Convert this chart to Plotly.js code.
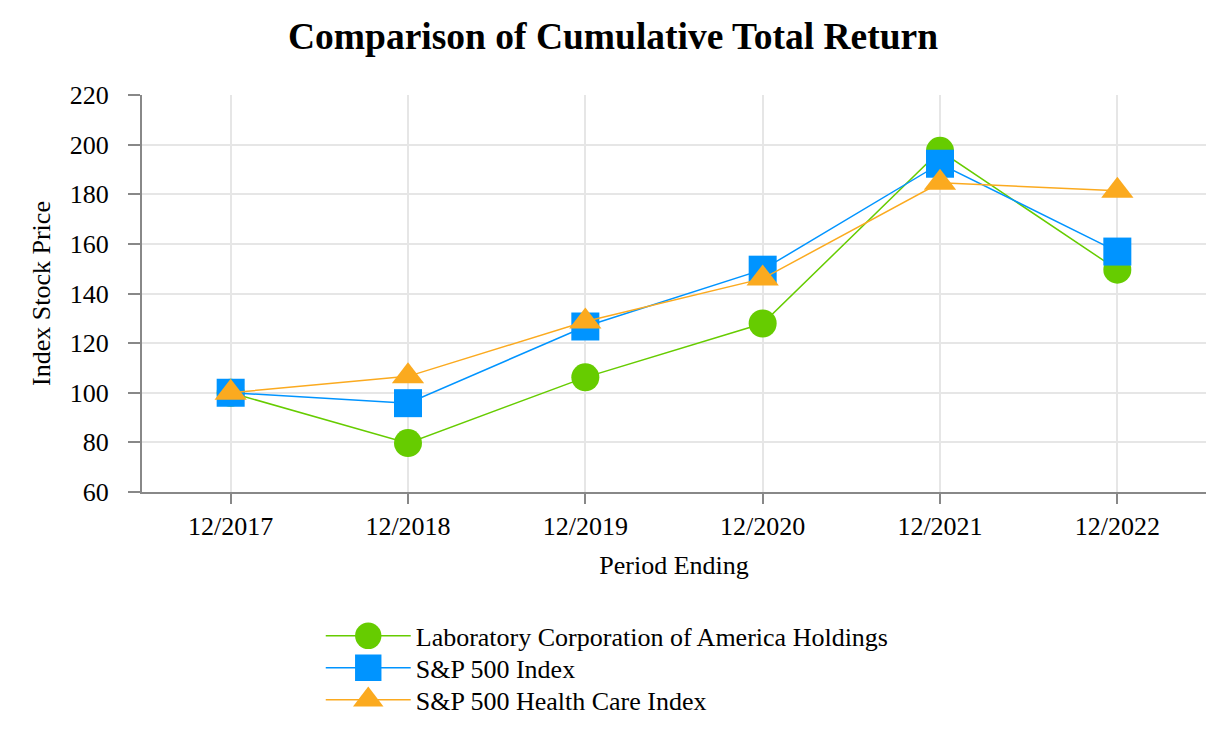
<!DOCTYPE html>
<html>
<head>
<meta charset="utf-8">
<script src="https://cdn.plot.ly/plotly-3.0.1.min.js"></script>
<style>html,body{margin:0;padding:0;background:#fff;}#chart{width:1226px;height:744px;}</style>
</head>
<body>
<div id="chart"></div>
<script>
const periods = ["12/2017", "12/2018", "12/2019", "12/2020", "12/2021", "12/2022"];
const labcorp = [100, 79.7, 106.2, 127.9, 197.5, 149.6];
const sp500 = [100, 95.8, 126.7, 149.6, 192.3, 156.9];
const spHealth = [100, 106.6, 128.7, 146.0, 184.6, 181.4];
const seriesNames = ["Laboratory Corporation of America Holdings", "S&P 500 Index", "S&P 500 Health Care Index"];

const font = "Liberation Serif, Times New Roman, serif";
const fs = 26;
const traces = [
  {x: periods, y: labcorp, name: seriesNames[0], mode: "lines+markers",
   line: {color: "#66cc00", width: 1.5}, marker: {symbol: "circle", size: 28, color: "#66cc00"}},
  {x: periods, y: sp500, name: seriesNames[1], mode: "lines+markers",
   line: {color: "#0094ff", width: 1.5}, marker: {symbol: "square", size: 28, color: "#0094ff"}},
  {x: periods, y: spHealth, name: seriesNames[2], mode: "lines+markers",
   line: {color: "#fbaa1f", width: 1.5}, marker: {symbol: "triangle-up", size: 28, color: "#fbaa1f"}}
];
const layout = {
  width: 1226, height: 744,
  margin: {l: 142, r: 20, t: 95, b: 251},
  paper_bgcolor: "#fff", plot_bgcolor: "#fff",
  font: {family: font, size: fs, color: "#000"},
  title: {text: "<b>Comparison of Cumulative Total Return</b>", x: 0.5, xanchor: "center", y: 0.952, yanchor: "middle",
          font: {family: font, size: 37.5, color: "#000"}},
  xaxis: {type: "category", range: [-0.5, 5.5], showgrid: true, gridcolor: "#e6e6e6", gridwidth: 2,
          showline: true, linecolor: "#888", linewidth: 2, ticks: "outside", ticklen: 10, tickcolor: "#888", tickwidth: 2,
          tickfont: {family: font, size: fs}, zeroline: false,
          title: {text: "Period Ending", font: {family: font, size: fs}, standoff: 16}},
  yaxis: {range: [60, 220], dtick: 20, showgrid: true, gridcolor: "#e6e6e6", gridwidth: 2,
          showline: true, linecolor: "#888", linewidth: 2, ticks: "outside", ticklen: 12, tickcolor: "#888", tickwidth: 2,
          ticklabelstandoff: 14,
          tickfont: {family: font, size: fs}, zeroline: false,
          title: {text: "Index Stock Price", font: {family: font, size: fs}, standoff: 12}},
  legend: {orientation: "v", x: 0.168, xanchor: "left", y: -0.3, yanchor: "top",
           font: {family: font, size: fs}, tracegroupgap: 0, itemwidth: 85},
  showlegend: true
};
Plotly.newPlot("chart", traces, layout, {displayModeBar: false, staticPlot: true}).then(function (gd) {
  // enlarge legend symbols to match the chart markers
  gd.querySelectorAll(".legend .legendpoints path.scatterpts").forEach(function (p) {
    const t = p.getAttribute("transform") || "";
    p.setAttribute("transform", t + " scale(1.65)");
  });
  // tighten legend row spacing to 32px
  const items = gd.querySelectorAll(".legend g.traces");
  let y0 = null;
  items.forEach(function (g, i) {
    const m = /translate\(\s*([-\d.]+)[ ,]+([-\d.]+)\s*\)/.exec(g.getAttribute("transform") || "");
    if (!m) return;
    if (y0 === null) y0 = parseFloat(m[2]);
    g.setAttribute("transform", "translate(" + m[1] + "," + (y0 + i * 32) + ")");
  });
});
</script>
</body>
</html>
